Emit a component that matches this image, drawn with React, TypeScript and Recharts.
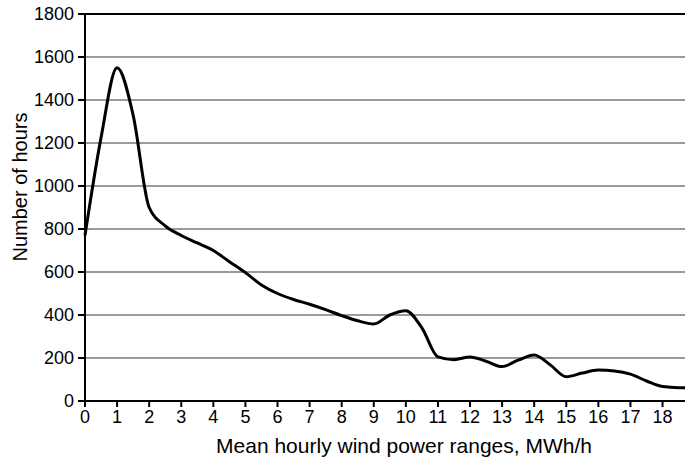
import {
  LineChart,
  Line,
  XAxis,
  YAxis,
  CartesianGrid,
  ReferenceLine,
} from "recharts";

// wind power range, MWh/h (points every 0.5)
const ranges = [
  0, 0.5, 1, 1.5, 2, 2.5, 3, 3.5, 4, 4.5,
  5, 5.5, 6, 6.5, 7, 7.5, 8, 8.5, 9, 9.5,
  10, 10.5, 11, 11.5, 12, 12.5, 13, 13.5, 14, 14.5,
  15, 15.5, 16, 16.5, 17, 17.5, 18, 18.5, 18.7,
];

// number of hours
const hours = [
  770, 1225, 1550, 1330, 900, 815, 770, 735, 700, 648,
  597, 540, 500, 472, 450, 425, 397, 373, 358, 400,
  420, 340, 205, 192, 205, 185, 160, 190, 214, 168,
  113, 130, 144, 140, 125, 93, 67, 62, 62,
];

const xTicks = [
  0, 1, 2, 3, 4, 5, 6, 7, 8, 9,
  10, 11, 12, 13, 14, 15, 16, 17, 18,
];

const yTicks = [
  0, 200, 400, 600, 800, 1000, 1200, 1400, 1600, 1800,
];

const FONT = "'Liberation Sans', Arial, sans-serif";

const data = ranges.map((r, i) => ({
  range: r,
  hours: hours[i],
}));

const App = () => {
  return (
    <div
      style={{
        position: "absolute",
        left: 0,
        top: 0,
        background: "#fff",
      }}
    >
      <LineChart
        width={685}
        height={461}
        data={data}
        margin={{ top: 14, right: 0, bottom: 0, left: 0 }}
      >
        <CartesianGrid
          vertical={false}
          stroke="#7a7a7a"
          strokeWidth={1.5}
        />

        <ReferenceLine
          y={1800}
          stroke="#000"
          strokeWidth={2}
        />

        <XAxis
          dataKey="range"
          type="number"
          domain={[0, 18.7]}
          ticks={xTicks}
          interval={0}
          height={60}
          stroke="#000"
          strokeWidth={2}
          tickSize={6}
          tickMargin={3}
          tick={{ fill: "#000", fontSize: 18, fontFamily: FONT }}
          label={() => (
            <text
              x={404}
              y={453}
              textAnchor="middle"
              fontSize={21}
              fontFamily={FONT}
              fill="#000"
            >
              Mean hourly wind power ranges, MWh/h
            </text>
          )}
        />

        <YAxis
          type="number"
          domain={[0, 1800]}
          ticks={yTicks}
          interval={0}
          width={85}
          stroke="#000"
          strokeWidth={2}
          tickSize={7}
          tickMargin={4}
          tick={{ fill: "#000", fontSize: 18, fontFamily: FONT }}
          label={() => (
            <text
              x={27}
              y={187}
              transform="rotate(-90 27 187)"
              textAnchor="middle"
              fontSize={20}
              fontFamily={FONT}
              fill="#000"
            >
              Number of hours
            </text>
          )}
        />

        <Line
          type="monotone"
          dataKey="hours"
          stroke="#000"
          strokeWidth={3}
          dot={false}
          isAnimationActive={false}
        />
      </LineChart>
    </div>
  );
};

export default App;
